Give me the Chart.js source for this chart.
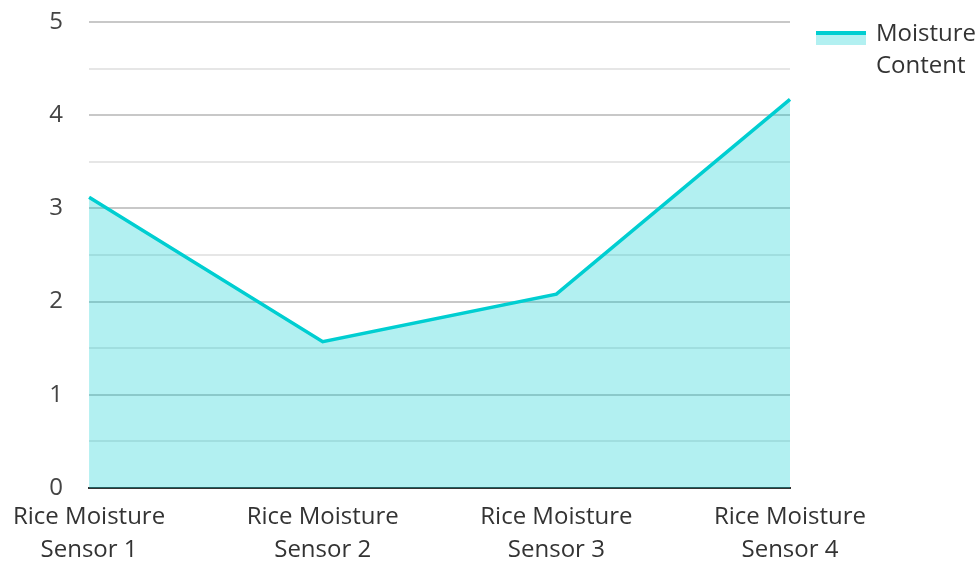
<!DOCTYPE html>
<html>
<head>
<meta charset="utf-8">
<script src="https://cdn.jsdelivr.net/npm/chart.js@4"></script>
<style>
  html, body { margin: 0; padding: 0; background: #fff; }
  #wrap { width: 980px; height: 562px; position: relative; }
</style>
</head>
<body>
<div id="wrap"><canvas id="chart" width="980" height="562"></canvas></div>
<script>
const categories = [
  ['Rice Moisture', 'Sensor 1'],
  ['Rice Moisture', 'Sensor 2'],
  ['Rice Moisture', 'Sensor 3'],
  ['Rice Moisture', 'Sensor 4']
];
const moisture = [3.12, 1.57, 2.08, 4.17];
const seriesName = ['Moisture', 'Content'];

const lineColor = '#00CED1';
const fillColor = 'rgba(0, 206, 209, 0.3)';
const font = 'Open Sans';

// legend drawn by hand, box with a line on top like the reference
const sideLegend = {
  id: 'sideLegend',
  afterDraw(chart) {
    const ctx = chart.ctx;
    const x = chart.chartArea.right + 26;
    const y = 33;
    ctx.save();
    ctx.fillStyle = fillColor;
    ctx.fillRect(x, y, 50, 12);
    ctx.strokeStyle = lineColor;
    ctx.lineWidth = 4;
    ctx.beginPath();
    ctx.moveTo(x, y);
    ctx.lineTo(x + 50, y);
    ctx.stroke();
    ctx.fillStyle = '#333';
    ctx.font = '24px "' + font + '"';
    ctx.textBaseline = 'middle';
    seriesName.forEach((t, i) => ctx.fillText(t, x + 60, y + 1 + i * 32));
    ctx.restore();
  }
};

new Chart(document.getElementById('chart'), {
  type: 'line',
  data: {
    labels: categories,
    datasets: [{
      label: seriesName.join(' '),
      data: moisture,
      borderColor: lineColor,
      backgroundColor: fillColor,
      borderWidth: 3.5,
      fill: 'origin',
      tension: 0,
      pointRadius: 0
    }]
  },
  options: {
    responsive: false,
    animation: false,
    layout: { padding: { top: 0, right: 190, left: 0, bottom: 0 } },
    plugins: {
      legend: { display: false },
      tooltip: { enabled: false }
    },
    scales: {
      x: {
        offset: false,
        afterFit(scale) { scale.height = 74; },
        grid: { display: false, drawTicks: false },
        border: { color: '#333', width: 2 },
        ticks: {
          color: '#333',
          font: { family: font, size: 24, lineHeight: 1.37 },
          padding: 13,
          maxRotation: 0,
          autoSkip: false
        }
      },
      y: {
        min: 0,
        max: 5,
        afterFit(scale) {
          scale.width = 88;
          scale.paddingTop = 22;
          scale.paddingBottom = 0;
        },
        border: { display: false },
        grid: {
          drawTicks: false,
          color: ctx => ctx.tick && Number.isInteger(ctx.tick.value) ? '#c8c8c8' : '#e6e6e6',
          lineWidth: 2
        },
        ticks: {
          stepSize: 0.5,
          color: '#444',
          padding: 26,
          font: { family: font, size: 24 },
          callback: v => Number.isInteger(v) ? v : ''
        }
      }
    }
  },
  plugins: [sideLegend]
});
</script>
</body>
</html>
